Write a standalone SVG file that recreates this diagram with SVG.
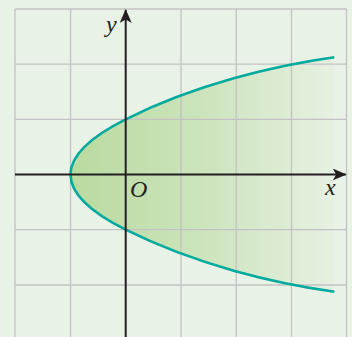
<svg xmlns="http://www.w3.org/2000/svg" width="352" height="337" viewBox="0 0 352 337">
<style>
.grid{stroke:#c2c2c4;stroke-width:1.3;fill:none}
.axis{stroke:#231f20;stroke-width:2;fill:none}
.lbl{font-family:"Liberation Serif","DejaVu Serif",serif;font-style:italic;font-size:24px;fill:#231f20}
.curve{stroke:#00a99d;stroke-width:2.6;fill:none}
</style>
<defs>
<linearGradient id="fillg" gradientUnits="userSpaceOnUse" x1="70" y1="0" x2="346" y2="0">
<stop offset="0" stop-color="#b9da9f"/>
<stop offset="0.5" stop-color="#cde4bd"/>
<stop offset="1" stop-color="#e9f2e6"/>
</linearGradient>
<marker id="arr" viewBox="0 0 14 12" refX="13" refY="6" markerWidth="14" markerHeight="12" markerUnits="userSpaceOnUse" orient="auto">
<path d="M0,0 L14,6 L0,12 L3.5,6 Z" fill="#231f20"/>
</marker>
</defs>
<rect x="0" y="0" width="352" height="337" fill="#e8f2e7"/>
<g id="region">
<path d="M334.3,57.3 C274.3,65.7 195.7,84.3 125.7,119.3 Q15.3,174.5 125.7,229.7 C195.7,264.7 274.3,283.3 334.3,291.7 Z" fill="url(#fillg)"/>
</g>
<g id="grid" class="grid">
<path d="M15,9 V337 M70.5,9 V337 M181,9 V337 M236.2,9 V337 M291.5,9 V337 M346.5,9 V337"/>
<path d="M15,9 H346.5 M15,64.1 H346.5 M15,119.3 H346.5 M15,229.7 H346.5 M15,285 H346.5"/>
</g>
<g id="curve">
<path class="curve" d="M334.3,57.3 C274.3,65.7 195.7,84.3 125.7,119.3 Q15.3,174.5 125.7,229.7 C195.7,264.7 274.3,283.3 334.3,291.7"/>
</g>
<g id="axes">
<line class="axis" x1="15" y1="174.5" x2="345.7" y2="174.5" marker-end="url(#arr)"/>
<line class="axis" x1="125.7" y1="337" x2="125.7" y2="10" marker-end="url(#arr)"/>
</g>
<g id="labels">
<text class="lbl" x="106" y="32">y</text>
<text class="lbl" x="325" y="195">x</text>
<text class="lbl" x="130" y="196.5">O</text>
</g>
</svg>
